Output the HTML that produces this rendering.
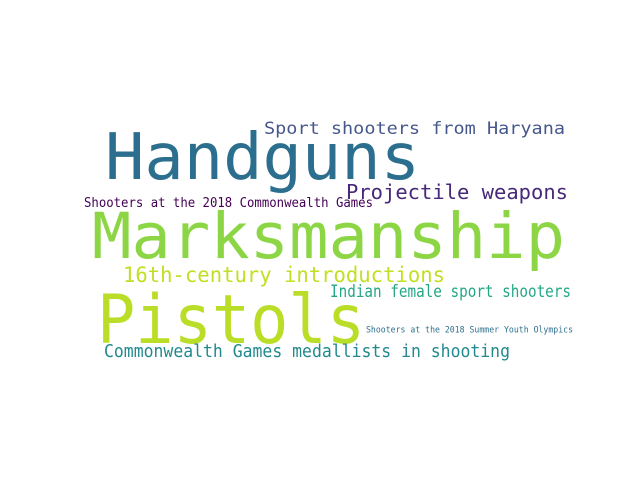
<!DOCTYPE html>
<html><head><meta charset="utf-8"><style>
html,body{margin:0;padding:0;background:#fff;width:640px;height:480px;overflow:hidden}
text{font-family:"DejaVu Sans Mono","Liberation Mono",monospace}
</style></head><body>
<svg id="cloud" width="640" height="480" viewBox="0 0 640 480"></svg>
<script>
const words=["Handguns","Marksmanship","Pistols","Sport shooters from Haryana","Projectile weapons","Shooters at the 2018 Commonwealth Games","16th-century introductions","Indian female sport shooters","Shooters at the 2018 Summer Youth Olympics","Commonwealth Games medallists in shooting"];
const colors=["#2c6e8e","#8cd645","#bade28","#46578c","#482878","#440154","#c2df23","#22a785","#2d708e","#23898e"];
const layoutX=[105,92,97,264,346,84,123,330,366,104];
const layoutY=[179,258,343,134,199,207,282,297,332.5,357];
const layoutW=[315,473,268,301,222,289,322,241,207,406];
const layoutS=[64,63,68,17,20,13,21,16.5,9,18];
const svg=document.getElementById('cloud');
const ns="http://www.w3.org/2000/svg";
words.forEach((w,i)=>{
  const t=document.createElementNS(ns,'text');
  
  
  t.setAttribute('x',layoutX[i]);
  t.setAttribute('y',layoutY[i]);
  t.setAttribute('font-size',layoutS[i]);
  t.setAttribute('fill',colors[i]);
  t.setAttribute('textLength',layoutW[i]);
  t.setAttribute('lengthAdjust','spacingAndGlyphs');
  t.textContent=w;
  svg.appendChild(t);
});
</script>
</body></html>
